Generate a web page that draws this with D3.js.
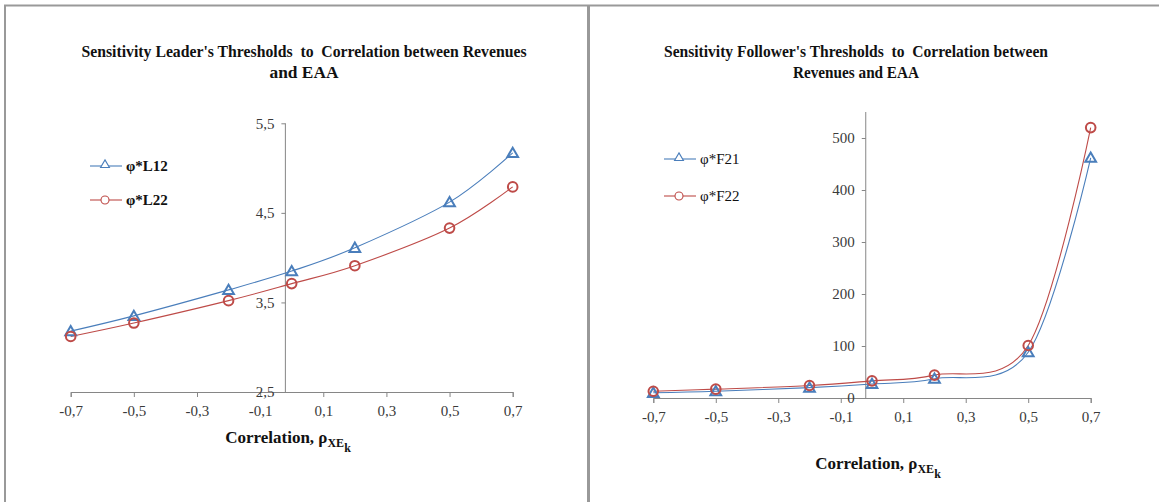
<!DOCTYPE html>
<html>
<head>
<meta charset="utf-8">
<script src="https://cdn.jsdelivr.net/npm/d3@7"></script>
<style>
  body { margin: 0; background: #fff; }
  svg { display: block; font-family: "Liberation Serif", "Times New Roman", serif; }
  .axis path, .axis line { stroke: #868686; }
</style>
</head>
<body>
<div id="chart"></div>
<script>
// data
var rho = [-0.7, -0.5, -0.2, 0, 0.2, 0.5, 0.7];
var xTicks = [-0.7, -0.5, -0.3, -0.1, 0.1, 0.3, 0.5, 0.7];

var leaderL12 = [3.18, 3.35, 3.64, 3.85, 4.11, 4.62, 5.17];
var leaderL22 = [3.12, 3.27, 3.52, 3.71, 3.91, 4.33, 4.79];
var leaderTicks = [2.5, 3.5, 4.5, 5.5];

var followerF21 = [10, 13, 20, 27, 37, 88, 462];
var followerF22 = [13, 17, 24, 33, 44, 101, 520];
var followerTicks = [0, 100, 200, 300, 400, 500];

var leaderNames = ["φ*L12", "φ*L22"];
var followerNames = ["φ*F21", "φ*F22"];

var blue = "#4A7EBB", red = "#BE4B48";

var svg = d3.select("#chart").append("svg")
    .attr("width", 1159)
    .attr("height", 502);

// panel frames
svg.append("line").attr("x1", 4).attr("x2", 1159).attr("y1", 5.5).attr("y2", 5.5)
    .attr("stroke", "#999").attr("stroke-width", 2);
svg.append("line").attr("x1", 5).attr("x2", 5).attr("y1", 5).attr("y2", 502)
    .attr("stroke", "#999").attr("stroke-width", 2);
svg.append("line").attr("x1", 588.5).attr("x2", 588.5).attr("y1", 5).attr("y2", 502)
    .attr("stroke", "#999").attr("stroke-width", 3);

var loc = d3.formatLocale({decimal: ",", thousands: " ", grouping: [3], currency: ["", ""], minus: "-"});
var fmt1 = loc.format(".1f");

function styleTicks(sel) {
  sel.attr("font-family", "'Liberation Serif', 'Times New Roman', serif")
     .attr("font-size", 15);
  sel.selectAll("text").attr("fill", "#3a3a3a");
}

function drawPanel(opt) {
  var x = d3.scaleLinear().domain([-0.7, 0.7]).range(opt.xRange);
  var y = d3.scaleLinear().domain(opt.yDomain).range(opt.yRange);
  var g = svg.append("g");

  // title
  var t = g.append("text")
      .attr("text-anchor", "middle")
      .attr("font-weight", "bold")
      .attr("font-size", "16px")
      .attr("fill", "#111")
      .style("white-space", "pre");
  opt.title.forEach(function(line, i) {
    t.append("tspan")
      .attr("x", opt.titleX)
      .attr("y", opt.titleY + i * 21)
      .attr("textLength", line.w)
      .attr("lengthAdjust", "spacingAndGlyphs")
      .text(line.s);
  });

  // x axis
  g.append("g")
      .attr("class", "axis")
      .attr("transform", "translate(0," + y(opt.yDomain[0]) + ")")
      .call(d3.axisBottom(x).tickValues(xTicks).tickFormat(fmt1).tickSize(5).tickPadding(8))
      .call(styleTicks);

  // y axis, crossing near zero
  g.append("g")
      .attr("class", "axis")
      .attr("transform", "translate(" + x(-0.02) + ",0)")
      .call(d3.axisLeft(y).tickValues(opt.yTicks).tickFormat(opt.yFormat).tickSize(4).tickPadding(7))
      .call(styleTicks)
      .select(".domain").attr("d", "M0," + opt.yRange[1] + "V" + opt.yRange[0]);

  // axis title
  var at = g.append("text")
      .attr("x", opt.labelX)
      .attr("y", opt.labelY)
      .attr("text-anchor", "middle")
      .attr("font-weight", "bold")
      .attr("font-size", "17px")
      .attr("fill", "#111");
  at.append("tspan").text("Correlation, ρ");
  at.append("tspan").attr("font-size", "12px").attr("dy", 4).text("XE");
  at.append("tspan").attr("font-size", "12px").attr("dy", 5).text("k");

  var line = d3.line()
      .curve(d3.curveCardinal.tension(0))
      .x(function(d, i) { return x(rho[i]); })
      .y(function(d) { return y(d); });

  var tri = d3.symbol().type(d3.symbolTriangle).size(50);

  // series 1 : triangles
  g.append("path").datum(opt.s1)
      .attr("fill", "none").attr("stroke", blue).attr("stroke-width", 1.1)
      .attr("d", line);
  // series 2 : circles
  g.append("path").datum(opt.s2)
      .attr("fill", "none").attr("stroke", red).attr("stroke-width", 1.1)
      .attr("d", line);

  g.selectAll(".tri").data(opt.s1).enter().append("path")
      .attr("transform", function(d, i) { return "translate(" + x(rho[i]) + "," + (y(d) + 1) + ")"; })
      .attr("d", tri)
      .attr("fill", "none").attr("stroke", blue).attr("stroke-width", 2);
  g.selectAll(".circ").data(opt.s2).enter().append("circle")
      .attr("cx", function(d, i) { return x(rho[i]); })
      .attr("cy", function(d) { return y(d); })
      .attr("r", 4.8)
      .attr("fill", "none").attr("stroke", red).attr("stroke-width", 2);

  // legend
  var cols = [blue, red];
  opt.names.forEach(function(n, i) {
    var ly = opt.legY[i];
    var lg = g.append("g");
    lg.append("line")
      .attr("x1", opt.legX).attr("x2", opt.legX + 32)
      .attr("y1", ly).attr("y2", ly)
      .attr("stroke", cols[i]).attr("stroke-width", 1.1);
    if (i === 0) {
      lg.append("path").attr("d", d3.symbol().type(d3.symbolTriangle).size(34))
        .attr("transform", "translate(" + (opt.legX + 15) + "," + (ly - 1) + ")")
        .attr("fill", "#fff").attr("stroke", cols[i]).attr("stroke-width", 1.1);
    } else {
      lg.append("circle").attr("cx", opt.legX + 15).attr("cy", ly).attr("r", 4)
        .attr("fill", "#fff").attr("stroke", cols[i]).attr("stroke-width", 1.1);
    }
    lg.append("text")
      .attr("x", opt.legX + 36).attr("y", ly + 5)
      .attr("font-size", "15px")
      .attr("font-weight", opt.legBold ? "bold" : "normal")
      .attr("fill", "#111")
      .text(n);
  });
}

drawPanel({
  xRange: [70.7, 512.7], yDomain: [2.5, 5.5], yRange: [392, 123.3],
  yTicks: leaderTicks, yFormat: fmt1,
  s1: leaderL12, s2: leaderL22, names: leaderNames,
  title: [{s: "Sensitivity Leader's Thresholds  to  Correlation between Revenues", w: 445},
          {s: "and EAA", w: 69}],
  titleX: 304, titleY: 57,
  labelX: 288, labelY: 443,
  legX: 90, legY: [166, 200], legBold: true
});

drawPanel({
  xRange: [653.3, 1090.7], yDomain: [0, 550], yRange: [398, 112],
  yTicks: followerTicks, yFormat: d3.format("d"),
  s1: followerF21, s2: followerF22, names: followerNames,
  title: [{s: "Sensitivity Follower's Thresholds  to  Correlation between", w: 384},
          {s: "Revenues and EAA", w: 126}],
  titleX: 856, titleY: 57,
  labelX: 878, labelY: 469,
  legX: 664, legY: [159, 196], legBold: false
});
</script>
</body>
</html>
